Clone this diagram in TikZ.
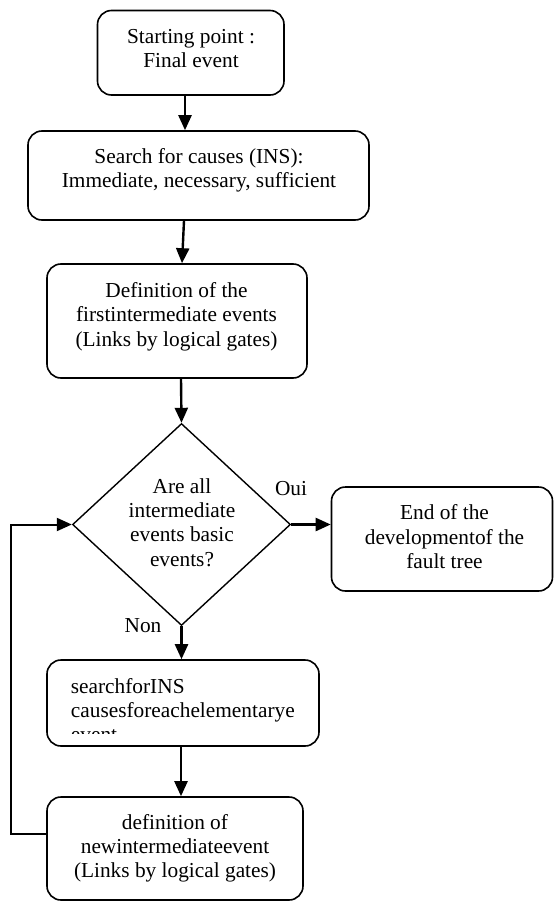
\documentclass[tikz,border=0pt]{standalone}
\usepackage{fontspec}
\setmainfont{Liberation Serif}
\usetikzlibrary{arrows.meta,shapes.geometric}
\begin{document}
\begin{tikzpicture}[x=1pt,y=-1pt,
  box/.style={draw, rounded corners=14pt, line width=1.6pt, inner sep=0pt},
  decision/.style={draw, diamond, line width=1.4pt, inner sep=0pt},
  txt/.style={inner sep=0pt, anchor=base, align=center, font=\fontsize{21.33}{24.4}\selectfont},
  flow/.style={line width=2.4pt, -{Triangle[length=15pt,width=13pt]}},
  back/.style={line width=2pt, -{Triangle[length=15pt,width=13pt]}},
]
\useasboundingbox (0,0) rectangle (554,902);

% process boxes
\node[box, minimum width=186.5pt, minimum height=84.5pt] (b1) at (190.75,52.75) {};
\node[box, minimum width=341pt,   minimum height=89pt]   (b2) at (198.5,175.5) {};
\node[box, minimum width=260pt,   minimum height=114pt]  (b3) at (177,321) {};
\node[decision, minimum width=218pt, minimum height=202pt] (d) at (181.5,524.5) {};
\node[box, minimum width=221pt,   minimum height=104pt]  (b4) at (442,539) {};
\node[box, minimum width=272pt,   minimum height=86pt]   (b5) at (183,703) {};
\node[box, minimum width=256pt,   minimum height=103pt]  (b6) at (175,848.5) {};

% box texts (anchored on the baseline of their last line)
\node[txt] (t1) at (191,67.5) {Starting point :\\Final event};
\node[txt] (t2) at (199,187.5) {Search for causes (INS):\\Immediate, necessary, sufficient};
\node[txt] (t3) at (176.5,346.3) {Definition of the\\firstintermediate events\\(Links by logical gates)};
\node[txt] (td) at (182,566.3) {Are all\\intermediate\\events basic\\events?};
\node[txt] (t4) at (444.5,568.6) {End of the\\developmentof the\\fault tree};
\begin{scope}
  % the text frame cuts off the last line
  \clip (47,660) rectangle (319,733.8);
  \node[txt, align=left, anchor=base west] (t5) at (70.7,741.8)
    {searchforINS\\causesforeachelementarye\\event};
\end{scope}
\node[txt] (t6) at (175,877.9) {definition of\\newintermediateevent\\(Links by logical gates)};

% branch labels
\node[txt] (oui) at (291,495.3) {Oui};
\node[txt] (non) at (143,632.6) {Non};

% columns of the vertical connectors
\coordinate (c1) at (185,0);
\coordinate (c2a) at (184,0);
\coordinate (c2b) at (182,0);
\coordinate (c3) at (181,0);
\coordinate (loopx) at (10.5,0);
\coordinate (loopy) at (0,834);

% connectors
\draw[flow] (b1.south -| c1) -- (b2.north -| c1);
\draw[flow] (b2.south -| c2a) -- (b3.north -| c2b);
\draw[flow] (b3.south -| c3) -- (d.north);
\draw[flow] (d.east) -- (b4.west |- d.east);
\draw[flow] (d.south) -- (b5.north -| d.south);
\draw[flow] (b5.south -| c3) -- (b6.north -| c3);
\draw[back] (b6.west |- loopy) -| (loopx |- d.west) -- (d.west);
\end{tikzpicture}
\end{document}
